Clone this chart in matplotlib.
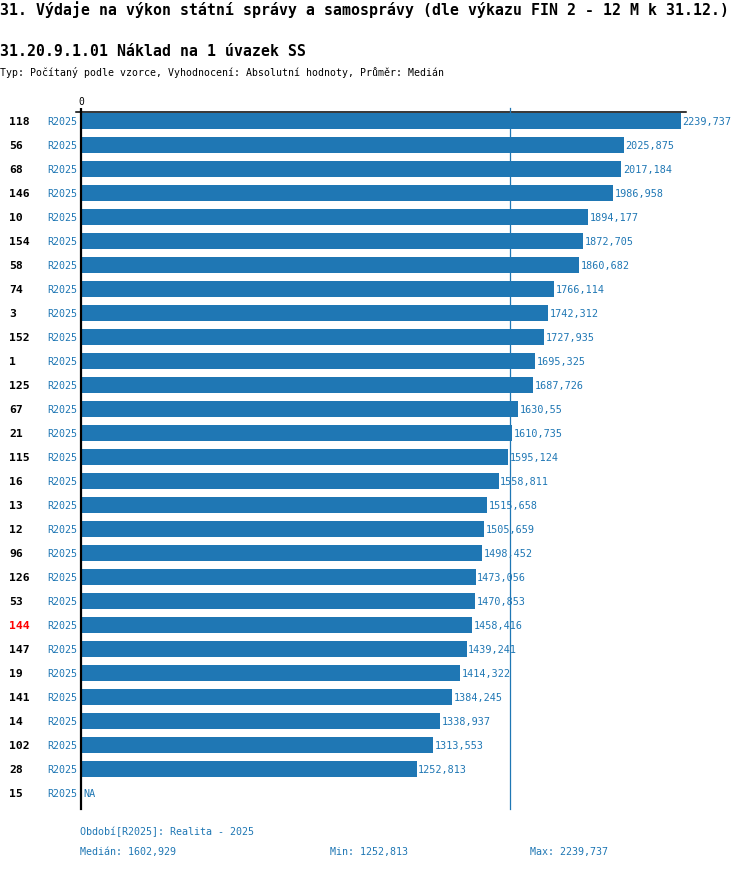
import numpy as np
import matplotlib
matplotlib.use("Agg")
import matplotlib.pyplot as plt
import matplotlib.transforms as mtransforms

plt.rcParams['font.family'] = ['DejaVu Sans Mono']

ids = ['118', '56', '68', '146', '10', '154', '58', '74', '3', '152', '1', '125', '67', '21', '115',
       '16', '13', '12', '96', '126', '53', '144', '147', '19', '141', '14', '102', '28', '15']
values = [2239.737, 2025.875, 2017.184, 1986.958, 1894.177, 1872.705, 1860.682, 1766.114, 1742.312,
          1727.935, 1695.325, 1687.726, 1630.55, 1610.735, 1595.124, 1558.811, 1515.658, 1505.659,
          1498.452, 1473.056, 1470.853, 1458.416, 1439.241, 1414.322, 1384.245, 1338.937, 1313.553,
          1252.813, np.nan]
period = 'R2025'
highlight = '144'
median = 1602.929
vmin = 1252.813
vmax = 2239.737

title = '31. Výdaje na výkon státní správy a samosprávy (dle výkazu FIN 2 - 12 M k 31.12.)'
subtitle = '31.20.9.1.01 Náklad na 1 úvazek SS'
info = 'Typ: Počítaný podle vzorce, Vyhodnocení: Absolutní hodnoty, Průměr: Medián'

blue = '#1f77b4'
W, H = 750, 870


def fmt(v):
    s = ('%.3f' % v).rstrip('0').rstrip('.')
    return s.replace('.', ',')


fig = plt.figure(figsize=(W / 100, H / 100), dpi=100)
# axes in pixel space: x 81..686, y 113..810
ax = fig.add_axes([81 / W, 1 - 810 / H, (686 - 81) / W, (810 - 113) / H])

n = len(ids)
ypos = np.arange(n)
vals = np.array(values)
ok = ~np.isnan(vals)
ax.barh(ypos[ok], vals[ok], height=0.67, color=blue, zorder=2)

ax.set_ylim(n - 1 + 0.667, -0.375)
ax.set_xlim(0, (686 - 81) / (600 / vmax))

for y, v in zip(ypos, vals):
    if np.isnan(v):
        ax.annotate('NA', (0, y), xytext=(1.5, 0), textcoords='offset points',
                    va='center', ha='left', fontsize=7.3, color=blue)
    else:
        ax.annotate(fmt(v), (v, y), xytext=(1.2, 0), textcoords='offset points',
                    va='center', ha='left', fontsize=7.3, color=blue)

ax.axvline(median, ymin=0, ymax=1.006, color=blue, lw=0.9, clip_on=False, zorder=3)

for s in ['right', 'bottom']:
    ax.spines[s].set_visible(False)
ax.spines['left'].set_linewidth(1.6)
ax.spines['left'].set_zorder(4)
ax.spines['top'].set_linewidth(1.1)
# short overhang of the top line to the left of the axis
ax.plot([-0.009, 0], [1, 1], transform=ax.transAxes, color='black', lw=1.1, clip_on=False)
ax.set_yticks([])
ax.xaxis.tick_top()
ax.set_xticks([0])
ax.set_xticklabels(['0'])
ax.tick_params(axis='x', length=3, width=1.6, pad=1, labelsize=7)

tr = mtransforms.blended_transform_factory(fig.transFigure, ax.transData)
for y, lab in zip(ypos, ids):
    ax.text(9 / W, y, lab, transform=tr, va='center', ha='left', fontsize=8.2,
            fontweight='bold', color='red' if lab == highlight else 'black')
    ax.text(47 / W, y, period, transform=tr, va='center', ha='left', fontsize=7.2, color=blue)

fig.text(0, 1 - 10 / H, title, fontsize=10.7, fontweight='bold', va='center', ha='left')
fig.text(0, 1 - 51 / H, subtitle, fontsize=10.7, fontweight='bold', va='center', ha='left')
fig.text(0, 1 - 73 / H, info, fontsize=7.1, va='center', ha='left')

fig.text(80 / W, 1 - 832 / H, 'Období[R2025]: Realita - 2025', fontsize=7.2, color=blue, va='center')
fig.text(80 / W, 1 - 852 / H, 'Medián: ' + fmt(median), fontsize=7.2, color=blue, va='center')
fig.text(330 / W, 1 - 852 / H, 'Min: ' + fmt(vmin), fontsize=7.2, color=blue, va='center')
fig.text(530 / W, 1 - 852 / H, 'Max: ' + fmt(vmax), fontsize=7.2, color=blue, va='center')

fig.savefig('out.png', dpi=100)
